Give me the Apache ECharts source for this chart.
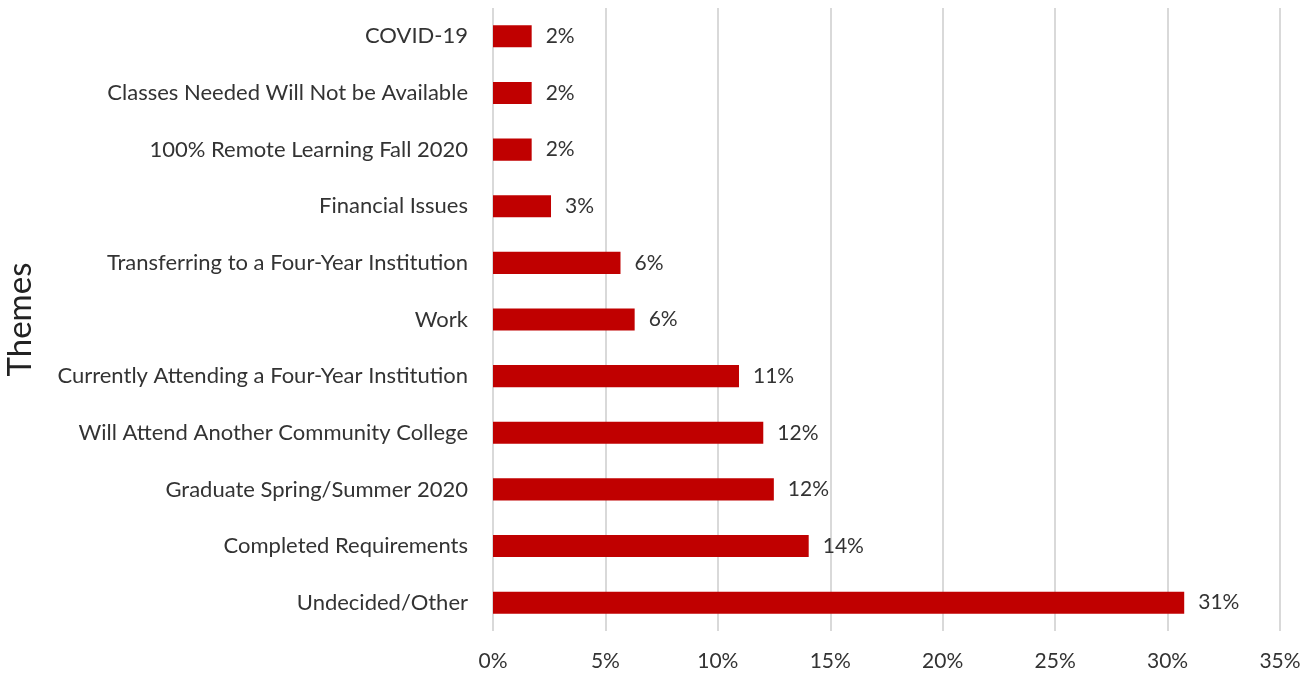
<!DOCTYPE html>
<html>
<head>
<meta charset="utf-8">
<script src="https://cdn.jsdelivr.net/npm/echarts@6/dist/echarts.min.js"></script>
<style>
  html, body { margin: 0; padding: 0; background: #fff; }
  #chart { width: 1315px; height: 674px; }
</style>
</head>
<body>
<div id="chart"></div>
<script>
// categories, top to bottom
const themes = [
  'COVID-19',
  'Classes Needed Will Not be Available',
  '100% Remote Learning Fall 2020',
  'Financial Issues',
  'Transferring to a Four-Year Institution',
  'Work',
  'Currently Attending a Four-Year Institution',
  'Will Attend Another Community College',
  'Graduate Spring/Summer 2020',
  'Completed Requirements',
  'Undecided/Other'
];
// share of responses, in %
const shares = [1.72, 1.72, 1.72, 2.58, 5.67, 6.30, 10.94, 12.02, 12.49, 14.04, 30.74];

const FONT = 'Lato, "Open Sans", sans-serif';

const chart = echarts.init(document.getElementById('chart'));
chart.setOption({
  backgroundColor: '#fff',
  animation: false,
  grid: { left: 493, right: 35, top: 8, bottom: 43, outerBoundsMode: 'none', containLabel: false },
  xAxis: {
    type: 'value',
    min: 0,
    max: 35,
    interval: 5,
    axisLine: { show: false },
    axisTick: { show: false },
    axisLabel: {
      color: '#333',
      fontSize: 21,
      fontFamily: FONT,
      margin: 20,
      formatter: v => v + '%'
    },
    splitLine: { lineStyle: { color: '#d9d9d9', width: 2 } }
  },
  yAxis: {
    type: 'category',
    data: themes,
    inverse: true,
    name: 'Themes',
    nameLocation: 'middle',
    nameGap: 456,
    nameRotate: 90,
    nameTextStyle: { color: '#222', fontSize: 33, fontFamily: FONT },
    axisLine: { show: false },
    axisTick: { show: false },
    axisLabel: {
      color: '#333',
      fontSize: 22,
      fontFamily: FONT,
      margin: 25
    }
  },
  series: [{
    type: 'bar',
    data: shares,
    barCategoryGap: '61%',
    itemStyle: { color: '#c00000' },
    label: {
      show: true,
      position: 'right',
      distance: 14,
      color: '#333',
      fontSize: 21,
      fontFamily: FONT,
      formatter: p => Math.round(p.value) + '%'
    }
  }]
});
</script>
</body>
</html>
